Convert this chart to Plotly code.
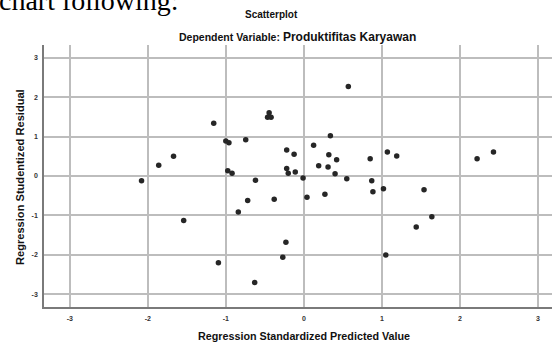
import plotly.graph_objects as go

# Data
pred_std = [-2.08, -1.86, -1.67, -1.54, 0.57, -1.155, -0.445, -0.465, -0.42, -1.00,
            -0.96, -0.745, 0.34, 0.125, -0.22, -0.125, 0.32, 0.42, 0.85, 0.19,
            0.31, 0.40, -0.22, -0.20, -0.11, -0.975, -0.92, -0.62, -0.01, 0.55,
            0.87, 0.885, 0.27, 0.04, -0.38, -0.72, -0.84, -0.23, -0.27, -1.095,
            -0.63, 1.07, 1.19, 2.22, 2.43, 1.02, 1.54, 1.64, 1.44, 1.05]
resid_stud = [-0.12, 0.27, 0.50, -1.13, 2.27, 1.34, 1.60, 1.49, 1.49, 0.89,
              0.84, 0.92, 1.02, 0.78, 0.66, 0.55, 0.54, 0.41, 0.44, 0.26,
              0.23, 0.06, 0.19, 0.07, 0.10, 0.13, 0.07, -0.11, -0.05, -0.07,
              -0.12, -0.40, -0.46, -0.54, -0.59, -0.62, -0.91, -1.68, -2.06, -2.20,
              -2.70, 0.61, 0.51, 0.44, 0.61, -0.32, -0.35, -1.03, -1.29, -2.00]
tick_vals = [-3, -2, -1, 0, 1, 2, 3]
tick_text = ["-3", "-2", "-1", "0", "1", "2", "3"]

W, H = 552, 345
L, R, T, B = 44, 0, 45, 38
pw, ph = W - L - R, H - T - B

def px_x(p):
    return (p - L) / pw

def px_y(p):
    return (H - B - p) / ph

FONT = "Liberation Sans, Arial, sans-serif"

fig = go.Figure()
fig.add_trace(go.Scatter(
    x=pred_std, y=resid_stud, mode="markers",
    marker=dict(size=5.5, color="#262626"),
    showlegend=False, hoverinfo="x+y"))

axis_common = dict(
    tickmode="array", tickvals=tick_vals, ticktext=tick_text,
    showgrid=True, gridcolor="#bdbdbd", gridwidth=1.5,
    zeroline=False, showline=True, linecolor="#7a7a7a", linewidth=1.5,
    ticks="", automargin=False,
    tickfont=dict(family=FONT, size=7, color="#333333", weight="bold"),
)
fig.update_xaxes(range=[-3.33, 3.18], ticklabelstandoff=4, **axis_common)
fig.update_yaxes(range=[-3.32, 3.32], ticklabelstandoff=3, **axis_common)

annotations = [
    dict(text="Scatterplot", x=px_x(271), y=px_y(15),
         font=dict(family=FONT, size=10, color="#111111", weight="bold")),
    dict(text="Dependent Variable: <span style='font-size:12px'>Produktifitas Karyawan</span>",
         x=px_x(297), y=px_y(37),
         font=dict(family=FONT, size=10.5, color="#111111", weight="bold")),
    dict(text="Regression Standardized Predicted Value", x=px_x(303.5), y=px_y(336),
         font=dict(family=FONT, size=10.75, color="#111111", weight="bold")),
    dict(text="Regression Studentized Residual", x=px_x(20), y=px_y(177), textangle=-90,
         font=dict(family=FONT, size=11.1, color="#111111", weight="bold")),
    dict(text="chart following:", x=px_x(-3), y=px_y(1), xanchor="left",
         font=dict(family="Liberation Serif, Times New Roman, serif", size=28, color="#000000")),
]
for a in annotations:
    a.setdefault("xanchor", "center")
    a.update(xref="paper", yref="paper", yanchor="middle", showarrow=False)
fig.update_layout(annotations=annotations)

fig.update_layout(
    template="none",
    width=W, height=H,
    margin=dict(l=L, r=R, t=T, b=B, autoexpand=False),
    paper_bgcolor="white", plot_bgcolor="white",
)

fig.write_html(
    "out.html",
    config={"displayModeBar": False},
    post_script="document.body.style.margin='0';document.body.style.overflow='hidden';",
)
